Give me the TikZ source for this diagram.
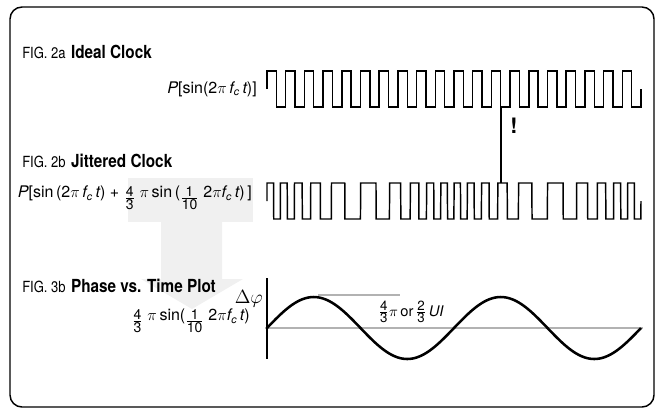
\documentclass[tikz,border=0pt]{standalone}
\usepackage{amsmath}
\usepackage{fontspec}
\setmainfont{TeX Gyre Heros}
\newfontfamily\figfont{TeX Gyre Heros}[FakeStretch=0.85]
\usetikzlibrary{positioning}

\newcommand{\tx}[1]{\text{#1}}
\newcommand{\ffct}{\textit{f}_{\textit{c}}\,\textit{t}}
\newcommand{\fr}[3][10.5]{\genfrac{}{}{0.5pt}{1}{\text{\fontsize{#1}{12}\selectfont #2}}{\text{\fontsize{#1}{12}\selectfont #3}}}
\newcommand{\lfr}[2]{\raisebox{-3.5pt}{$\fr{#1}{#2}$}}

\begin{document}
\begin{tikzpicture}[x=0.75pt,y=-0.75pt,
  wave/.style={line width=1.1pt},
  guide/.style={draw=black!30,line width=0.8pt},
  eqn/.style={inner sep=0pt,font=\fontsize{12}{15}\selectfont},
  figlbl/.style={anchor=base west,inner sep=0pt,font=\figfont\fontsize{11.5}{14}\selectfont}]
\useasboundingbox (0,0) rectangle (655,408);
\draw[line width=1.1pt,rounded corners=9pt] (10,7) rectangle (654,407);

% figure titles
\node[figlbl] (figA) at (22,58) {FIG. 2a\hspace{4pt}{\fontsize{13.5}{16}\selectfont\bfseries Ideal Clock}};
\node[figlbl] (figB) at (22,167) {FIG. 2b\hspace{4pt}{\fontsize{13.5}{16}\selectfont\bfseries Jittered Clock}};

% highlight and arrow
\fill[black!6] (128,178) rectangle (253,222);
\fill[black!6] (161,222) -- (161,279) -- (141,279) -- (192,309) -- (243,279) -- (222,279) -- (222,222) -- cycle;

\node[figlbl] (figC) at (22,292) {FIG. 3b\hspace{4pt}{\fontsize{13.5}{16}\selectfont\bfseries Phase vs. Time Plot}};

% ideal clock
\node[eqn,anchor=east] (idealEq) at (257,89) {$\textit{P}\tx{[sin(2}\pi\,\ffct\tx{)]}$};
\draw[wave] (267,89) -- (267,71)
  \foreach \k in {0,...,18} { -- ++(9.35,0) -- ++(0,36) -- ++(9.35,0) -- ++(0,-36) }
  -- ++(9.35,0) -- ++(0,36) -- ++(9.35,0) -- ++(0,-18);

% jittered clock
\node[eqn,anchor=east] (jitB) at (252,198) {$\lfr{4}{3}\;\pi\,\tx{sin\,(}\lfr{1}{10}\;\tx{2}\pi\ffct\tx{)\,]}$};
\node[eqn,anchor=base east] (jitA) at (jitB.base west) {$\textit{P}\tx{[sin\,(2}\pi\,\ffct\tx{) + }$};
\draw[wave] (267,201) -- plot[domain=0.0005:19.9995,samples=2000]
  ({267+18.7*\x},{ifthenelse(sin(360*\x+240*sin(36*\x))>0,183,219)}) -- (641,201);

% time marker
\coordinate (markA) at (500.75,107);
\coordinate (markB) at (500.75,183);
\draw[line width=1.6pt] (markA) -- (markB);
\node[font=\fontsize{16}{18}\selectfont\bfseries] (bang) at (514,126) {!};

% phase plot
\draw[guide] (265,328) -- (643,328);
\draw[guide] (318,295) -- (400,295);
\draw[line width=1.5pt] (267,278) -- (267,359);
\draw[line width=1.9pt] plot[domain=0:20,samples=161,smooth] ({267+18.7*\x},{328-31*sin(36*\x)});
\node[anchor=east,inner sep=0pt,font=\fontsize{14}{16}\selectfont] (dphi) at (263,299) {$\Delta\varphi$};
\node[eqn,anchor=east] (phaseEq) at (250,321) {$\lfr{4}{3}\;\pi\,\tx{sin(}\lfr{1}{10}\;\tx{2}\pi\ffct\tx{)}$};
\node[inner sep=0pt,font=\fontsize{11}{13}\selectfont] (amp) at (411,312) {$\fr[10]{4}{3}\pi\,\tx{or}\,\fr[10]{2}{3}\,\textit{UI}$};
\end{tikzpicture}
\end{document}
